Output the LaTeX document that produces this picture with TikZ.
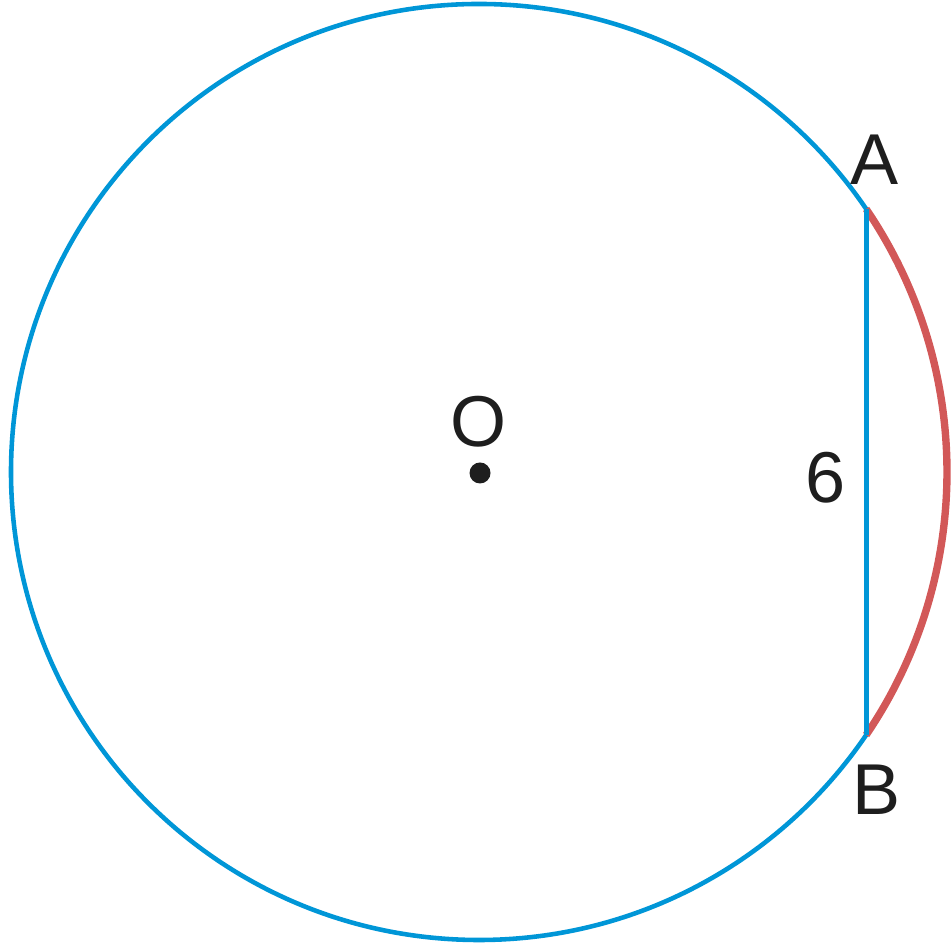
\documentclass[tikz,border=0pt]{standalone}
\usepackage{fontspec}
\setmainfont{Liberation Sans}
\usepackage{tikz}
\usetikzlibrary{calc, positioning}
\usepackage{xcolor}
\definecolor{cCircle}{RGB}{0,150,215}
\definecolor{cArc}{RGB}{210,88,88}
\definecolor{cInk}{RGB}{30,30,30}
\tikzset{
  circleline/.style={draw=cCircle, line width=1.3pt},
  chordline/.style={draw=cCircle, line width=1.45pt},
  arcline/.style={draw=cArc, line width=2.1pt},
  ptlabel/.style={inner sep=0pt, text=cInk, font=\fontsize{20.5}{24}\selectfont},
  centerdot/.style={fill=cInk}
}

\begin{document}
\begin{tikzpicture}
  \useasboundingbox (0,0) rectangle (9.50,9.51);
  % circle and chord
  \coordinate (O) at (4.79,4.79);
  \coordinate (A) at ($(O)+(34.2:4.68)$);
  \coordinate (B) at ($(O)+(-34.2:4.68)$);
  \draw[circleline] (O) circle[radius=4.68];
  \draw[arcline] (A) arc[start angle=34.2, end angle=-34.2, radius=4.68];
  \draw[chordline] (A) -- (B);
  \fill[centerdot] (4.80,4.78) circle[radius=0.105];
  % labels
  \node[ptlabel] (labA) at (8.75,7.91) {A};
  \node[ptlabel] (labB) at (8.77,1.61) {B};
  \node[ptlabel] (labO) at (4.79,5.29) {O};
  \node[ptlabel] (lab6) at (8.26,4.73) {6};
\end{tikzpicture}
\end{document}
